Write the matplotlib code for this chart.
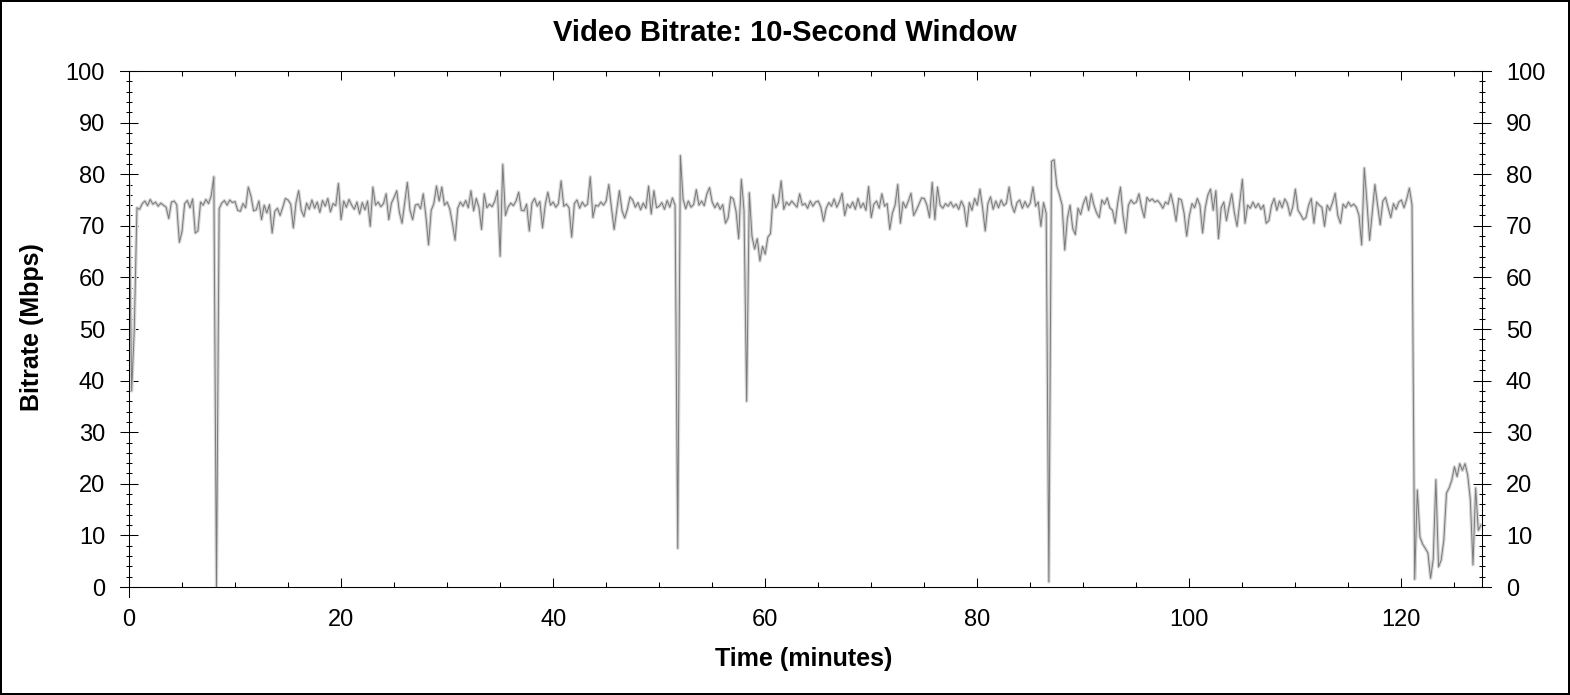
import numpy as np
import matplotlib
matplotlib.use("Agg")
import matplotlib.pyplot as plt
from matplotlib.ticker import MultipleLocator

plt.rcParams['font.family'] = ['Liberation Sans', 'DejaVu Sans']

step_min = 0.25
bitrate = [
    78.5, 38.0, 50.0, 73.5, 73.2, 74.3, 74.8, 73.9, 75.1, 74.2, 74.6, 73.8, 74.4, 74.0, 73.6, 71.4, 74.6, 74.8, 74.1, 66.8,
    68.9, 74.3, 74.9, 73.5, 75.2, 68.6, 69.0, 74.6, 74.0, 75.1, 74.3, 75.8, 79.5, 0.0, 73.3, 74.4, 74.9, 74.0, 75.0, 74.5,
    74.7, 73.0, 72.8, 74.3, 73.5, 77.5, 75.8, 72.9, 73.1, 74.8, 71.2, 74.0, 72.5, 74.1, 68.6, 72.8, 73.4, 72.0, 73.6, 75.3,
    75.0, 74.2, 69.6, 74.5, 76.8, 73.0, 71.8, 74.4, 73.2, 75.0, 73.4, 74.6, 72.6, 74.9, 73.8, 75.3, 72.7, 74.3, 73.9, 78.2,
    71.2, 74.8, 73.6, 75.1, 74.0, 73.2, 74.6, 72.3, 74.5, 73.1, 74.8, 69.9, 77.5, 74.0, 74.6, 73.7, 74.3, 76.2, 71.2, 74.4,
    75.5, 76.8, 72.6, 70.5, 74.5, 78.4, 73.0, 71.2, 74.0, 74.2, 73.3, 76.2, 71.9, 66.3, 73.0, 74.3, 77.7, 74.8, 77.5, 74.0,
    74.6, 73.3, 70.5, 67.2, 73.4, 74.6, 73.8, 74.9, 73.5, 76.8, 72.9, 75.3, 73.6, 69.3, 76.2, 73.5, 74.2, 73.7, 74.8, 76.8,
    64.1, 81.9, 72.0, 73.6, 74.4, 73.9, 74.8, 76.5, 73.0, 72.9, 74.2, 69.0, 74.4, 75.3, 73.8, 74.7, 69.6, 74.0, 76.5, 74.0,
    74.6, 73.6, 74.3, 78.7, 73.8, 74.2, 73.5, 67.8, 74.3, 75.0, 73.4, 74.6, 73.8, 74.2, 79.5, 71.6, 74.0, 73.8, 74.6, 74.0,
    74.8, 78.0, 73.5, 69.3, 73.0, 76.8, 72.9, 71.5, 73.2, 75.6, 75.0, 73.6, 74.5, 73.1, 74.4, 73.4, 77.7, 72.3, 76.8, 73.5,
    73.8, 74.5, 73.2, 74.9, 73.6, 75.4, 74.0, 7.5, 83.6, 75.2, 73.3, 74.8, 73.6, 74.1, 77.0, 74.0, 74.8, 73.9, 76.2, 77.4,
    74.6, 73.5, 74.4, 73.2, 74.1, 70.5, 71.5, 75.6, 75.2, 72.8, 67.5, 79.0, 73.0, 36.0, 76.4, 68.0, 65.5, 67.5, 63.2, 66.0,
    64.5, 67.8, 68.5, 76.0, 73.5, 74.5, 78.7, 73.2, 74.6, 74.0, 74.8, 74.2, 73.6, 76.2, 74.0, 74.3, 73.4, 74.8, 73.8, 74.6,
    74.8, 73.6, 70.9, 73.4, 74.5, 73.8, 75.2, 73.6, 74.7, 76.3, 72.0, 74.2, 73.5, 74.6, 73.2, 75.3, 73.5, 74.4, 73.0, 77.6,
    71.6, 74.2, 74.8, 73.4, 76.2, 73.8, 74.3, 69.3, 72.5, 74.0, 78.0, 70.5, 74.6, 73.5, 74.8, 76.3, 72.0, 73.0, 74.2, 75.4,
    75.3, 74.0, 71.6, 78.4, 71.2, 77.5, 74.0, 73.4, 74.3, 73.8, 74.6, 73.6, 74.2, 73.2, 74.8, 73.7, 69.9, 74.5, 73.0, 75.3,
    74.0, 77.1, 73.5, 69.0, 74.3, 75.6, 73.2, 74.8, 73.5, 75.0, 73.9, 74.4, 77.5, 74.0, 72.6, 74.5, 75.0, 73.4, 74.7, 73.6,
    74.4, 77.5, 73.8, 74.6, 69.9, 74.5, 72.4, 1.0, 82.5, 82.8, 77.7, 76.0, 74.0, 65.3, 71.5, 74.0, 69.5, 68.3, 73.4, 72.2,
    74.3, 75.6, 73.0, 76.2, 74.0, 72.5, 71.6, 75.0, 74.2, 75.4, 73.5, 73.0, 70.5, 74.5, 77.5, 72.0, 68.6, 74.0, 75.0, 74.3,
    74.6, 76.2, 73.5, 71.6, 75.5, 74.8, 75.2, 74.6, 74.9, 74.3, 73.4, 74.6, 74.2, 76.2, 74.0, 70.9, 75.3, 75.0, 72.5, 68.0,
    72.0, 74.3, 73.5, 75.3, 74.0, 68.6, 73.5, 76.0, 77.1, 73.0, 76.8, 67.5, 73.5, 74.6, 71.0, 73.8, 76.2, 72.5, 69.9, 74.5,
    79.0, 70.5, 74.0, 73.4, 74.6, 73.5, 74.3, 73.2, 74.0, 70.5, 71.0, 74.0, 75.3, 73.0, 74.8, 73.5, 75.2, 74.3, 72.0, 73.6,
    77.1, 73.0, 72.2, 71.2, 71.6, 74.0, 75.3, 70.5, 74.6, 74.0, 73.6, 69.9, 74.0, 73.0, 74.5, 76.3, 72.0, 70.5, 74.2, 73.5,
    74.6, 73.8, 74.2, 73.6, 72.0, 66.3, 81.2, 74.5, 67.2, 72.5, 78.0, 74.0, 70.2, 74.8, 75.5, 73.5, 71.6, 74.3, 73.2, 74.6,
    75.0, 73.5, 75.2, 77.3, 74.0, 1.5, 18.8, 9.7, 8.3, 7.5, 6.6, 1.7, 5.4, 20.8, 3.9, 5.2, 9.1, 18.2, 19.2, 20.7,
    23.3, 21.4, 23.9, 22.6, 23.9, 21.7, 16.9, 4.3, 19.2, 11.0, 12.0,
]
minutes = np.arange(len(bitrate)) * step_min

W, H = 1570, 695
fig = plt.figure(figsize=(W / 100, H / 100), dpi=100)
fig.patch.set_facecolor('white')
fig.patch.set_edgecolor('black')
fig.patch.set_linewidth(1.5)

ax = fig.add_axes([129 / W, 1 - 587 / H, (1482 - 129) / W, (587 - 71) / H])

# light halo + dark trace
ax.plot(minutes, bitrate, color='#d4d4d4', lw=2.4, solid_joinstyle='round')
ax.plot(minutes, bitrate, color='#7a7a7a', lw=0.7)

ax.set_xlim(0, 127.6)
ax.set_ylim(0, 100)

ax.xaxis.set_major_locator(MultipleLocator(20))
ax.xaxis.set_minor_locator(MultipleLocator(5))
ax.yaxis.set_major_locator(MultipleLocator(10))
ax.yaxis.set_minor_locator(MultipleLocator(2))

ax.tick_params(axis='x', which='major', direction='in', length=6.5, width=0.75,
               top=True, bottom=True, labelsize=17, pad=16)
ax.tick_params(axis='x', which='minor', direction='in', length=3.3, width=0.75,
               top=True, bottom=True)
ax.tick_params(axis='y', which='major', direction='inout', length=12.5, width=0.75,
               left=True, right=True, labelleft=True, labelright=True,
               labelsize=17, pad=11)
ax.tick_params(axis='y', which='minor', direction='inout', length=5, width=0.75,
               left=True, right=True)

for s in ax.spines.values():
    s.set_linewidth(0.75)

# frame lines poking past the corners
ext_x = 9 / (1482 - 129)
ext_y = 10 / (587 - 71)
for yy in (0, 1):
    ax.plot([-ext_x, 1 + ext_x], [yy, yy], transform=ax.transAxes,
            color='black', lw=0.75, clip_on=False)
ax.plot([0, 0], [-ext_y, 0], transform=ax.transAxes, color='black',
        lw=0.75, clip_on=False)

fig.text(785 / W, 1 - 33 / H, 'Video Bitrate: 10-Second Window',
         ha='center', va='center', fontsize=21, fontweight='bold')
fig.text(804 / W, 1 - 659 / H, 'Time (minutes)', ha='center', va='center',
         fontsize=18, fontweight='bold')
fig.text(32 / W, 1 - 327 / H, 'Bitrate (Mbps)', ha='center', va='center',
         rotation=90, fontsize=18, fontweight='bold')

fig.savefig('out.png', dpi=100, facecolor=fig.get_facecolor(),
            edgecolor=fig.get_edgecolor())
